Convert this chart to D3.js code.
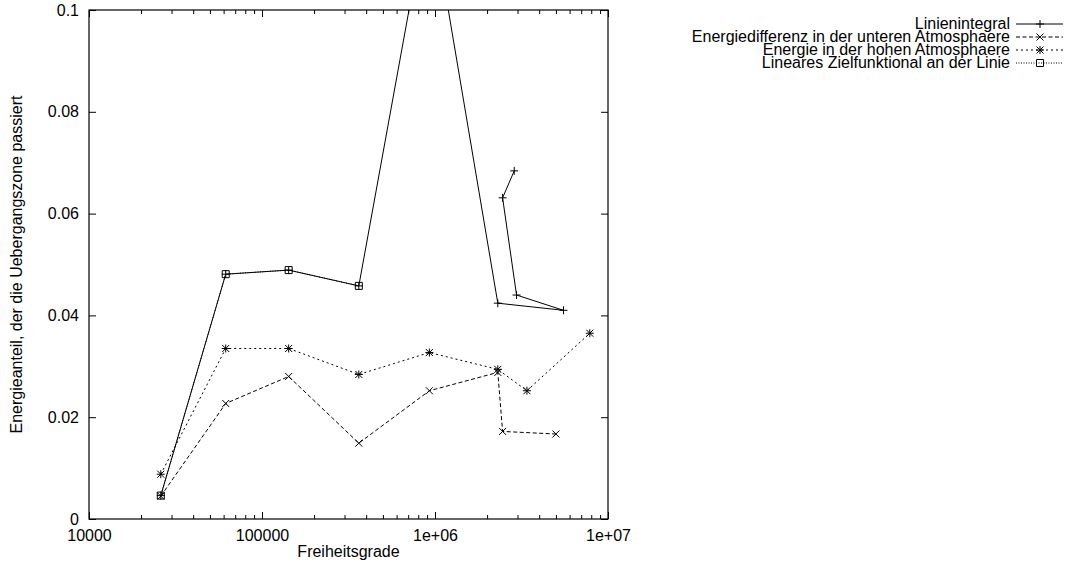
<!DOCTYPE html>
<meta charset="utf-8">
<script src="https://d3js.org/d3.v7.min.js"></script>
<style>
  body { margin: 0; background: #fff; }
  text { font-family: "Liberation Sans", Arial, sans-serif; font-size: 16px; fill: #000; }
</style>
<body>
<div id="chart"></div>
<script>

// data
var seriesNames = ["Linienintegral",
                   "Energiedifferenz in der unteren Atmosphaere",
                   "Energie in der hohen Atmosphaere",
                   "Lineares Zielfunktional an der Linie"];

var liniePts  = [26000, 61700, 142600, 362800, 928000, 2307000, 5530000, 2960000, 2459000, 2871000];
var linieVals = [0.0046, 0.0481, 0.0489, 0.0458, 0.122, 0.0424, 0.0410, 0.0440, 0.0631, 0.0684];

var diffPts  = [26000, 61700, 142600, 362800, 928000, 2307000, 2459000, 5000000];
var diffVals = [0.0045, 0.0227, 0.0280, 0.0149, 0.0252, 0.0288, 0.0172, 0.0167];

var hohePts  = [26000, 61700, 142600, 362800, 928000, 2307000, 3400000, 7850000];
var hoheVals = [0.0088, 0.0335, 0.0335, 0.0284, 0.0327, 0.0294, 0.0252, 0.0365];

var zielPts  = [26000, 61700, 142600, 362800];
var zielVals = [0.0046, 0.0481, 0.0489, 0.0458];

var xTicks = [1e4, 1e5, 1e6, 1e7];
var xTickLabels = ["10000", "100000", "1e+06", "1e+07"];
var yTicks = [0, 0.02, 0.04, 0.06, 0.08, 0.1];
var yTickLabels = ["0", "0.02", "0.04", "0.06", "0.08", "0.1"];

var W = 1067, H = 565;
var margin = {left: 89, right: 608, top: 10, bottom: 519};

var svg = d3.select("#chart").append("svg")
    .attr("width", W).attr("height", H);

var x = d3.scaleLog().domain([1e4, 1e7]).range([margin.left, margin.right]);
var y = d3.scaleLinear().domain([0, 0.1]).range([margin.bottom, margin.top]);

var minor = x.ticks().filter(function(d) { return xTicks.indexOf(d) < 0; });

function noDomain(g) { g.select(".domain").remove(); }

// bottom axis: major + minor ticks, pointing inward
svg.append("g")
    .attr("transform", "translate(0," + margin.bottom + ")")
    .call(d3.axisBottom(x).tickValues(xTicks).tickSize(-7).tickSizeOuter(0).tickPadding(11)
      .tickFormat(function(d, i) { return xTickLabels[i]; }))
    .call(noDomain);
svg.append("g")
    .attr("transform", "translate(0," + margin.bottom + ")")
    .call(d3.axisBottom(x).tickValues(minor).tickSize(-4).tickSizeOuter(0).tickFormat(""))
    .call(noDomain);

// top mirror ticks
svg.append("g")
    .attr("transform", "translate(0," + margin.top + ")")
    .call(d3.axisTop(x).tickValues(xTicks).tickSize(-7).tickSizeOuter(0).tickFormat(""))
    .call(noDomain);
svg.append("g")
    .attr("transform", "translate(0," + margin.top + ")")
    .call(d3.axisTop(x).tickValues(minor).tickSize(-4).tickSizeOuter(0).tickFormat(""))
    .call(noDomain);

// left + right
svg.append("g")
    .attr("transform", "translate(" + margin.left + ",0)")
    .call(d3.axisLeft(y).tickValues(yTicks).tickSize(-7).tickSizeOuter(0).tickPadding(10)
      .tickFormat(function(d, i) { return yTickLabels[i]; }))
    .call(noDomain);
svg.append("g")
    .attr("transform", "translate(" + margin.right + ",0)")
    .call(d3.axisRight(y).tickValues(yTicks).tickSize(-7).tickSizeOuter(0).tickFormat(""))
    .call(noDomain);

svg.selectAll(".tick line").attr("stroke", "#000");
svg.selectAll(".tick text")
    .style("font-family", "'Liberation Sans', Arial, sans-serif")
    .style("font-size", "16px");

// frame
svg.append("rect")
    .attr("x", margin.left).attr("y", margin.top)
    .attr("width", margin.right - margin.left).attr("height", margin.bottom - margin.top)
    .attr("fill", "none").attr("stroke", "#000").attr("stroke-width", 1.2);

// axis titles
svg.append("text")
    .attr("x", (margin.left + margin.right) / 2).attr("y", 557)
    .attr("text-anchor", "middle")
    .text("Freiheitsgrade");

svg.append("text")
    .attr("transform", "translate(22," + ((margin.top + margin.bottom) / 2) + ") rotate(-90)")
    .attr("text-anchor", "middle")
    .text("Energieanteil, der die Uebergangszone passiert");

svg.append("clipPath").attr("id", "plotclip")
  .append("rect")
    .attr("x", margin.left).attr("y", margin.top)
    .attr("width", margin.right - margin.left).attr("height", margin.bottom - margin.top);

var markers = {
  plus:  "M-4,0H4M0,-4V4",
  cross: "M-3.5,-3.5L3.5,3.5M-3.5,3.5L3.5,-3.5",
  star:  "M-4,0H4M0,-4V4M-3.5,-3.5L3.5,3.5M-3.5,3.5L3.5,-3.5",
  box:   "M-3.5,-3.5H3.5V3.5H-3.5Z"
};

var series = [
  { xs: liniePts, ys: linieVals, dash: null,    marker: "plus" },
  { xs: diffPts,  ys: diffVals,  dash: "4,2.5", marker: "cross" },
  { xs: hohePts,  ys: hoheVals,  dash: "2,3",   marker: "star" },
  { xs: zielPts,  ys: zielVals,  dash: "1,1.5", marker: "box" }
];

var line = d3.line()
    .x(function(d) { return x(d[0]); })
    .y(function(d) { return y(d[1]); });

var plot = svg.append("g").attr("clip-path", "url(#plotclip)");

series.forEach(function(s) {
  var pts = s.xs.map(function(v, i) { return [v, s.ys[i]]; });
  plot.append("path")
      .datum(pts)
      .attr("d", line)
      .attr("fill", "none")
      .attr("stroke", "#000")
      .attr("stroke-width", 1)
      .attr("stroke-dasharray", s.dash);
  plot.selectAll(null)
      .data(pts)
      .enter().append("path")
      .attr("transform", function(d) { return "translate(" + x(d[0]) + "," + y(d[1]) + ")"; })
      .attr("d", markers[s.marker])
      .attr("fill", "none")
      .attr("stroke", "#000")
      .attr("stroke-width", 1);
});

// legend
var legend = svg.append("g");
seriesNames.forEach(function(name, i) {
  var cy = 24 + i * 13;
  legend.append("text")
      .attr("x", 1010).attr("y", cy + 5)
      .attr("text-anchor", "end")
      .text(name);
  legend.append("line")
      .attr("x1", 1016).attr("x2", 1063)
      .attr("y1", cy).attr("y2", cy)
      .attr("stroke", "#000").attr("stroke-width", 1)
      .attr("stroke-dasharray", series[i].dash);
  legend.append("path")
      .attr("transform", "translate(1040," + cy + ")")
      .attr("d", markers[series[i].marker])
      .attr("fill", "none").attr("stroke", "#000");
});

</script>
</body>
